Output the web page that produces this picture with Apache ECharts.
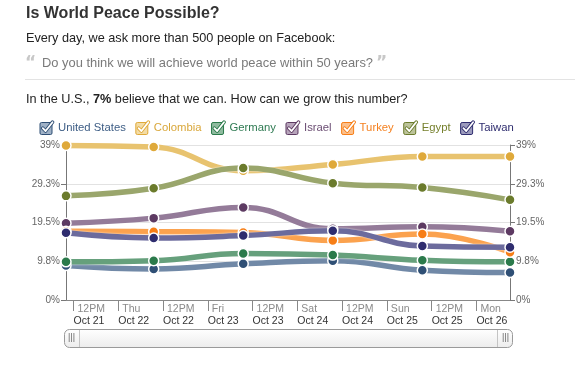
<!DOCTYPE html>
<html><head><meta charset="utf-8">
<script src="https://cdn.jsdelivr.net/npm/echarts@6/dist/echarts.min.js"></script>
<style>html,body{margin:0;padding:0;background:#fff}#c{width:575px;height:369px}</style>
</head><body><div id="c"></div>
<script>
// Data (hours since Oct 21 00:00 for each daily reading)
var hoursSinceOct21 = [10, 33.5, 57.5, 81.5, 105.5, 129];
var seriesNames = ['United States','Colombia','Germany','Israel','Turkey','Egypt','Taiwan'];
var unitedStates = [8.7, 7.8, 9.1, 9.9, 7.5, 6.9];
var colombia     = [38.9, 38.5, 32.5, 34.1, 36.1, 36.1];
var germany      = [9.6, 9.9, 11.7, 11.3, 10.0, 9.6];
var israel       = [19.3, 20.6, 23.3, 17.9, 18.4, 17.3];
var turkey       = [17.3, 17.2, 17.0, 15.0, 16.6, 12.0];
var egypt        = [26.2, 28.1, 33.2, 29.4, 28.3, 25.2];
var taiwan       = [16.9, 15.6, 16.2, 17.4, 13.6, 13.3];
var tickHours  = [12, 24, 36, 48, 60, 72, 84, 96, 108, 120];
var tickTop    = ['12PM','Thu','12PM','Fri','12PM','Sat','12PM','Sun','12PM','Mon'];
var tickBottom = ['Oct 21','Oct 22','Oct 22','Oct 23','Oct 23','Oct 24','Oct 24','Oct 25','Oct 25','Oct 26'];

var allValues = [unitedStates, colombia, germany, israel, turkey, egypt, taiwan];
var lineColors   = ['#7189a7','#e8c36f','#66a07c','#947b99','#fba24e','#9aa66c','#6c6b9d'];
var markerColors = ['#2f4f75','#dfa93a','#2b7a4b','#5d3a62','#f77e16','#6b7b2c','#2f2d6f'];
var textColors   = ['#3d5d85','#d9a73a','#2e7a52','#6b4d73','#f5801f','#76802d','#2f2d6f'];
var boxFill      = ['#9fb1c6','#f3dca5','#8fbb9f','#b7a4bb','#fcc08c','#bcc39a','#9c9bbd'];

function checkIcon(i){
  var svg = '<svg xmlns="http://www.w3.org/2000/svg" width="16" height="16" viewBox="0 0 16 16">'+
    '<rect x="1" y="2.5" width="12" height="12" rx="1.5" fill="'+boxFill[i]+'" stroke="'+markerColors[i]+'" stroke-width="1"/>'+
    '<path d="M3.8 8.2 L6.6 11 L13.5 2.2" fill="none" stroke="'+markerColors[i]+'" stroke-width="3.6" stroke-linecap="round" stroke-linejoin="round"/>'+
    '<path d="M3.8 8.2 L6.6 11 L13.5 2.2" fill="none" stroke="#fff" stroke-width="1.8" stroke-linecap="round" stroke-linejoin="round"/>'+
    '</svg>';
  return 'image://data:image/svg+xml;utf8,' + encodeURIComponent(svg);
}

function fmtPct(v){ return (Math.round(v*10)/10) + '%'; }

var series = seriesNames.map(function(name, i){
  return {
    name: name, type: 'line', smooth: 0.45,
    data: hoursSinceOct21.map(function(h, k){ return [h, allValues[i][k]]; }),
    symbol: 'circle', symbolSize: 10,
    itemStyle: { color: markerColors[i], borderColor: '#fff', borderWidth: 1.5 },
    lineStyle: { color: lineColors[i], width: 5.5, shadowColor: 'rgba(255,255,255,0.9)', shadowBlur: 2 },
    emphasis: { disabled: true },
    animation: false
  };
});

var chart = echarts.init(document.getElementById('c'), null, {renderer: 'canvas'});
var font = 'Liberation Sans, Arial, sans-serif';
chart.setOption({
  backgroundColor: '#fff',
  animation: false,
  textStyle: { fontFamily: font },
  legend: {
    left: 34, top: 115, itemWidth: 16, itemHeight: 16, itemGap: 9,
    textStyle: { fontSize: 11.3, fontFamily: font, padding: [0,0,0,-2] },
    selectedMode: false,
    data: seriesNames.map(function(n, i){
      return { name: n, icon: checkIcon(i), textStyle: { color: textColors[i] } };
    })
  },
  grid: { left: 66, right: 65, top: 145, bottom: 69 },
  xAxis: {
    type: 'value', min: hoursSinceOct21[0], max: hoursSinceOct21[hoursSinceOct21.length-1],
    axisLine: { show: true, onZero: false, lineStyle: { color: '#888', width: 1 } },
    axisTick: { show: true, customValues: tickHours, length: 11, inside: false, lineStyle: { color: '#888' } },
    splitLine: { show: false },
    axisLabel: {
      customValues: tickHours, align: 'left', margin: 3, hideOverlap: false,
      formatter: function(v){ var k = tickHours.indexOf(v); return '{a|' + tickTop[k] + '}\n{b|' + tickBottom[k] + '}'; },
      rich: {
        a: { fontSize: 10.5, color: '#8a8a8a', fontFamily: font, lineHeight: 12, padding: [0,0,0,4] },
        b: { fontSize: 10.5, color: '#333', fontFamily: font, lineHeight: 13 }
      }
    }
  },
  yAxis: [{
    type: 'value', min: 0, max: 39, interval: 9.75, position: 'left',
    axisLine: { show: true, lineStyle: { color: '#777' } },
    axisTick: { show: true, length: 5, lineStyle: { color: '#777' } },
    splitLine: { show: true, lineStyle: { color: '#e2e2e2' } },
    axisLabel: { formatter: fmtPct, color: '#666', fontSize: 10, margin: 6, fontFamily: font }
  },{
    type: 'value', min: 0, max: 39, interval: 9.75, position: 'right',
    axisLine: { show: true, lineStyle: { color: '#777' } },
    axisTick: { show: true, length: 5, lineStyle: { color: '#777' } },
    splitLine: { show: false },
    axisLabel: { formatter: fmtPct, color: '#666', fontSize: 10, margin: 6, fontFamily: font }
  }],
  series: series,
  graphic: [
    { type: 'text', left: 26, top: 6, style: { text: 'Is World Peace Possible?', font: 'bold 16px ' + font, fill: '#333' } },
    { type: 'text', left: 26, top: 32, style: { text: 'Every day, we ask more than 500 people on Facebook:', font: '12.7px ' + font, fill: '#222' } },
    { type: 'text', left: 25, top: 55, style: { text: '\u201C', font: 'bold 17px DejaVu Sans', fill: '#c8c8c8' } },
    { type: 'text', left: 42, top: 57, style: { text: 'Do you think we will achieve world peace within 50 years?', font: '12.9px ' + font, fill: '#7a7a7a' } },
    { type: 'text', left: 376, top: 55, style: { text: '\u201D', font: 'bold 17px DejaVu Sans', fill: '#c8c8c8' } },
    { type: 'line', shape: { x1: 25, y1: 79.5, x2: 575, y2: 79.5 }, style: { stroke: '#e3e3e3', lineWidth: 1 } },
    { type: 'text', left: 26, top: 93, style: {
        text: '{n|In the U.S., }{b|7%}{n| believe that we can. How can we grow this number?}',
        rich: { n: { font: '12.7px ' + font, fill: '#222' }, b: { font: 'bold 12.7px ' + font, fill: '#222' } } } },
    { type: 'rect', shape: { x: 64.5, y: 329.5, width: 448, height: 18, r: 5 },
      style: { stroke: '#9a9a9a', lineWidth: 1,
        fill: new echarts.graphic.LinearGradient(0,0,0,1,[{offset:0,color:'#ffffff'},{offset:1,color:'#ececec'}]) } },
    { type: 'line', shape: { x1: 79.5, y1: 330, x2: 79.5, y2: 347 }, style: { stroke: '#c4c4c4' } },
    { type: 'line', shape: { x1: 497.5, y1: 330, x2: 497.5, y2: 347 }, style: { stroke: '#c4c4c4' } },
    { type: 'text', left: 68, top: 333, style: { text: '|||', font: '9px ' + font, fill: '#666' } },
    { type: 'text', left: 502, top: 333, style: { text: '|||', font: '9px ' + font, fill: '#666' } }
  ]
});
</script></body></html>
